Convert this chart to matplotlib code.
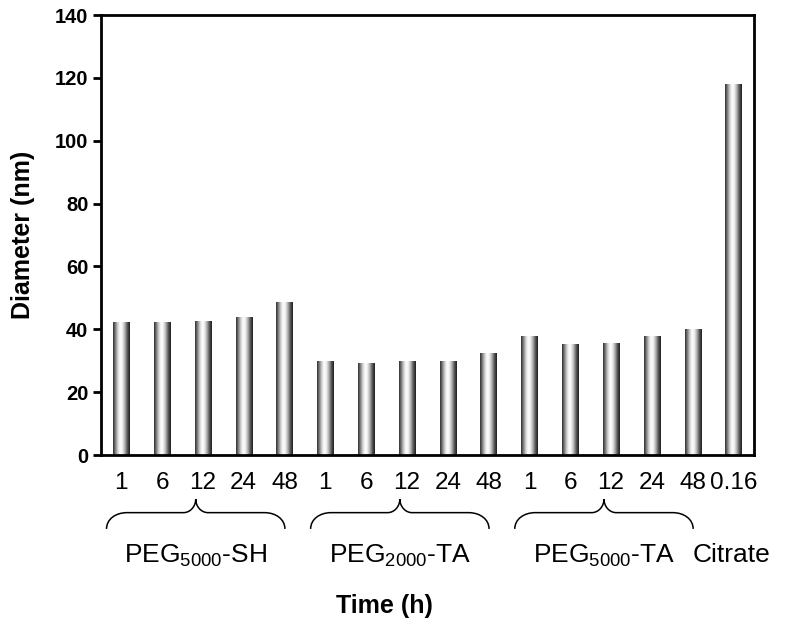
import numpy as np
import matplotlib
matplotlib.use("Agg")
import matplotlib.pyplot as plt
from matplotlib.colors import LinearSegmentedColormap
from matplotlib.path import Path
from matplotlib.patches import PathPatch

plt.rcParams['font.family'] = ['Liberation Sans', 'DejaVu Sans']
plt.rcParams['mathtext.fontset'] = 'custom'
plt.rcParams['mathtext.rm'] = 'Liberation Sans'

# ---- data ----
time_labels = ["1", "6", "12", "24", "48",
               "1", "6", "12", "24", "48",
               "1", "6", "12", "24", "48", "0.16"]
diameters = [42.3, 42.3, 42.7, 44.0, 48.7,
             29.9, 29.4, 29.8, 29.8, 32.4,
             37.9, 35.4, 35.8, 37.9, 40.1,
             118.0]
group_names = [r"PEG$_{\mathregular{5000}}$-SH",
               r"PEG$_{\mathregular{2000}}$-TA",
               r"PEG$_{\mathregular{5000}}$-TA",
               "Citrate"]
group_sizes = [5, 5, 5, 1]
y_ticks = [0, 20, 40, 60, 80, 100, 120, 140]

fig = plt.figure(figsize=(8, 6.29), dpi=100)
ax = fig.add_axes([0.126, 0.2766, 0.8165, 0.6994])

x = np.arange(len(diameters)) + 0.5
bars = ax.bar(x, diameters, width=0.40, color='none', edgecolor='none', zorder=2)

cmap = LinearSegmentedColormap.from_list(
    "cyl",
    [(0.0, "#2a2a2a"), (0.12, "#707070"), (0.28, "#d0d0d0"), (0.42, "#ffffff"),
     (0.55, "#f2f2f2"), (0.70, "#b0b0b0"), (0.85, "#555555"), (1.0, "#1a1a1a")])
grad = np.linspace(0, 1, 256).reshape(1, -1)
for b in bars:
    x0, y0 = b.get_x(), b.get_y()
    w, h = b.get_width(), b.get_height()
    im = ax.imshow(grad, cmap=cmap, aspect='auto', extent=(x0, x0 + w, y0, y0 + h),
                   interpolation='bicubic', zorder=2)
    im.set_clip_path(b)

ax.set_xlim(0, len(diameters))
ax.set_ylim(0, 140)
ax.set_yticks(y_ticks)
ax.set_yticklabels([str(t) for t in y_ticks], fontsize=14.5, fontweight='bold')
ax.set_xticks(x)
ax.set_xticklabels(time_labels, fontsize=17.5)
ax.tick_params(axis='x', length=0, pad=12)
ax.tick_params(axis='y', direction='out', length=6, width=2, pad=3)
for s in ax.spines.values():
    s.set_linewidth(2)

ax.set_ylabel("Diameter (nm)", fontsize=18, fontweight='bold', labelpad=14)

# braces and group labels
trans = ax.get_xaxis_transform()
start = 0
top = -0.100
mid = -0.131
bot = -0.168
r_end = 0.50   # horizontal radius of the end curls (data units)
r_tip = 0.30   # horizontal half-width of the central cusp
for name, n in zip(group_names, group_sizes):
    lo, hi = start, start + n
    if n > 1:
        a = lo + 0.14
        b2 = hi - 0.49
        c = (a + b2) / 2.0
        verts = [
            (a, bot),
            (a, bot + 0.6 * (mid - bot)), (a + 0.45 * r_end, mid), (a + r_end, mid),
            (c - r_tip, mid),
            (c - 0.45 * r_tip, mid), (c, mid + 0.45 * (top - mid)), (c, top),
            (c, mid + 0.45 * (top - mid)), (c + 0.45 * r_tip, mid), (c + r_tip, mid),
            (b2 - r_end, mid),
            (b2 - 0.45 * r_end, mid), (b2, bot + 0.6 * (mid - bot)), (b2, bot),
        ]
        codes = [Path.MOVETO,
                 Path.CURVE4, Path.CURVE4, Path.CURVE4,
                 Path.LINETO,
                 Path.CURVE4, Path.CURVE4, Path.CURVE4,
                 Path.CURVE4, Path.CURVE4, Path.CURVE4,
                 Path.LINETO,
                 Path.CURVE4, Path.CURVE4, Path.CURVE4]
        patch = PathPatch(Path(verts, codes), transform=trans, fill=False,
                          lw=1.1, edgecolor='black', clip_on=False)
        ax.add_patch(patch)
        center = c
    else:
        center = lo + 0.45
    ax.text(center, -0.228, name, transform=trans, ha='center', va='center',
            fontsize=19)
    start = hi

fig.text(0.48, 0.037, "Time (h)", ha='center', va='center',
         fontsize=18, fontweight='bold')

fig.savefig("out.png", dpi=100)
